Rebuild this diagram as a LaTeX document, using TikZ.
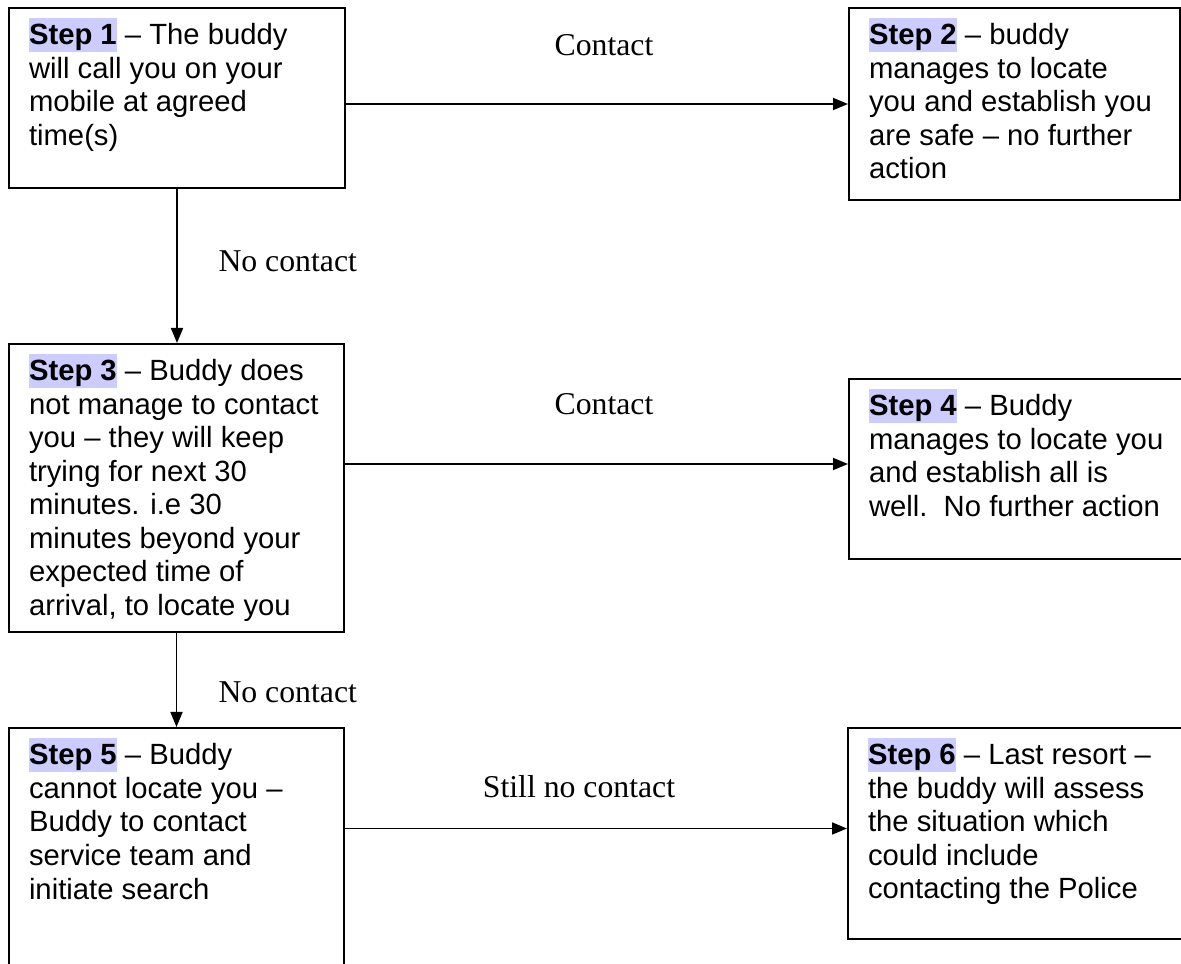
\documentclass[tikz,border=0pt]{standalone}
\usepackage{fontspec}
\setmainfont{Liberation Sans}
\newfontfamily\labelfont{Liberation Serif}
\usepackage{xcolor}
\usetikzlibrary{arrows.meta,positioning}

\definecolor{stephl}{RGB}{204,204,255}
\newcommand{\stepno}[1]{{\setlength{\fboxsep}{0pt}\colorbox{stephl}{\rule[-2.8pt]{0pt}{13.6pt}\textbf{Step #1}}}}
\newcommand{\steptext}[3]{\parbox[c][#1][t]{#2}{\raggedright\vspace*{4pt}#3}}

\tikzset{
  stepbox/.style={draw, line width=0.8pt, anchor=north west, inner xsep=8pt, inner ysep=0pt,
    font=\fontsize{11.7pt}{13.4pt}\selectfont},
  arr/.style={-{Triangle[length=6pt,width=4.8pt]}, line width=0.7pt},
  lbl/.style={font=\labelfont\fontsize{12.7pt}{15pt}\selectfont, anchor=base, inner sep=0pt}
}

\begin{document}
\begin{tikzpicture}[x=0.4pt,y=-0.4pt]
\useasboundingbox (0,0) rectangle (1181,964);

% steps
\node[stepbox] (s1) at (8,7) {\steptext{72pt}{118.4pt}{\stepno{1} – The buddy\\ will call you on your\\ mobile at agreed\\ time(s)}};
\node[stepbox] (s2) at (848,7) {\steptext{76.8pt}{116.4pt}{\stepno{2} – buddy\\ manages to locate\\ you and establish you\\ are safe – no further\\ action}};
\node[stepbox] (s3) at (8,343) {\steptext{115.2pt}{118pt}{\stepno{3} – Buddy does\\ not manage to contact\\ you – they will keep\\ trying for next 30\\ minutes. i.e 30\\ minutes beyond your\\ expected time of\\ arrival, to locate you}};
\node[stepbox] (s4) at (848,378) {\steptext{72pt}{124pt}{\stepno{4} – Buddy\\ manages to locate you\\ and establish all is\\ well.\ \ No further action}};
\node[stepbox] (s5) at (8,727) {\steptext{101.2pt}{118pt}{\stepno{5} – Buddy\\ cannot locate you –\\ Buddy to contact\\ service team and\\ initiate search}};
\node[stepbox] (s6) at (847,727) {\steptext{84.4pt}{124pt}{\stepno{6} – Last resort –\\ the buddy will assess\\ the situation which\\ could include\\ contacting the Police}};

% arrows
\draw[arr] (s2.west -| s1.east) -- (s2.west);
\draw[arr] (s1.south) -- (s1.south |- s3.north);
\draw[arr] ([yshift=2pt]s4.west -| s3.east) -- ([yshift=2pt]s4.west);
\draw[arr] (s3.south) -- (s3.south |- s5.north);
\draw[arr] ([yshift=2pt]s6.west -| s5.east) -- ([yshift=2pt]s6.west);

% labels
\node[lbl] (c12) at (604,56) {Contact};
\node[lbl, anchor=base west] (n13) at (218,272) {No contact};
\node[lbl] (c34) at (604,415) {Contact};
\node[lbl, anchor=base west] (n35) at (218,703) {No contact};
\node[lbl] (n56) at (579,798) {Still no contact};
\end{tikzpicture}
\end{document}
